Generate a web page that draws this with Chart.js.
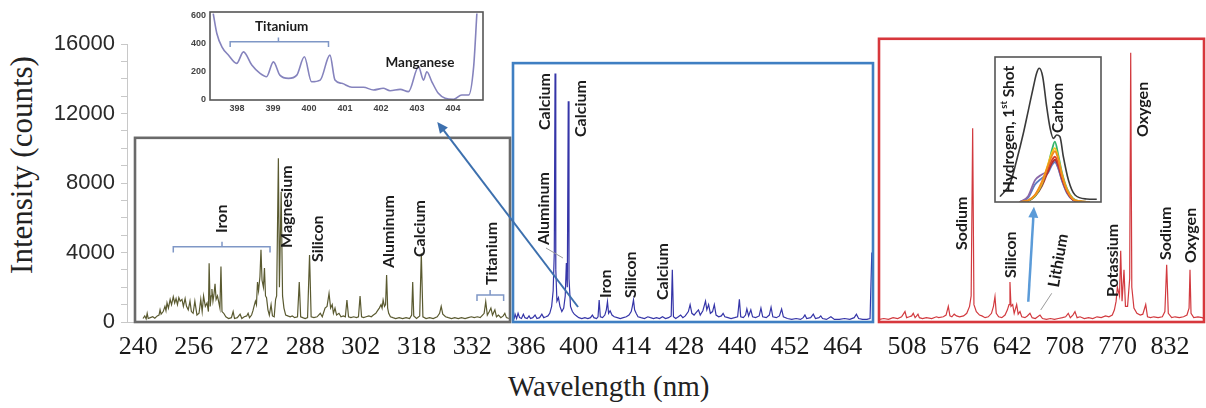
<!DOCTYPE html>
<html>
<head>
<meta charset="utf-8">
<script src="https://cdn.jsdelivr.net/npm/chart.js@4.4.1/dist/chart.umd.min.js"></script>
<style>
  html, body { margin: 0; padding: 0; background: #fff; }
  #fig { position: relative; width: 1206px; height: 408px; overflow: hidden; }
  #fig canvas { position: absolute; left: 0; top: 0; }
  .title { position: absolute; font-family: 'Liberation Serif', 'Times New Roman', serif; color: #222; white-space: nowrap; line-height: 30px; }
  #ytitle { left: 22px; top: 165px; font-size: 31px; transform: translate(-50%, -50%) rotate(-90deg); }
  #xtitle { left: 508px; top: 371px; font-size: 29px; }
</style>
</head>
<body>
<div id="fig">
  <div class="title" id="ytitle">Intensity (counts)</div>
  <div class="title" id="xtitle">Wavelength (nm)</div>
  <canvas id="seg1" width="1206" height="408"></canvas>
  <canvas id="seg2" width="1206" height="408"></canvas>
  <canvas id="seg3" width="1206" height="408"></canvas>
  <canvas id="inset1" width="1206" height="408"></canvas>
  <canvas id="inset2" width="1206" height="408"></canvas>
</div>
<script>
// tick labels (the wavelength axis is broken into three pieces)
const seg1Ticks = [240, 256, 272, 288, 302, 318, 332];
const seg2Ticks = [386, 400, 414, 428, 440, 452, 464];
const seg3Ticks = [508, 576, 642, 708, 770, 832];
const yTicks = [0, 4000, 8000, 12000, 16000];
const insetTiTicksX = [398, 399, 400, 401, 402, 403, 404];
const insetTiTicksY = [0, 200, 400, 600];

// [wavelength nm, counts]
const seg1 = [
  [241.4,200],[241.9,350],[242.3,180],[242.6,500],[242.9,200],[243.5,250],[244.2,300],[244.8,220],
  [245.5,350],[246.0,400],[246.3,700],[246.6,450],[247.2,600],[247.7,900],[248.0,650],[248.3,1100],
  [248.7,800],[249.2,1300],[249.6,1000],[250.1,1450],[250.5,1100],[250.9,1350],[251.3,1000],[251.7,1400],
  [252.1,1200],[252.6,1300],[253.0,900],[253.5,1350],[253.9,900],[254.4,700],[254.9,1200],[255.3,600],
  [255.8,500],[256.3,1200],[256.9,400],[257.5,500],[258.0,1300],[258.4,600],[258.8,1500],[259.3,900],
  [259.8,1100],[260.2,600],[260.4,3380],[260.7,900],[261.0,1500],[261.2,1900],[261.5,1200],[261.8,1600],
  [262.1,2200],[262.4,1300],[262.8,1500],[263.2,1100],[263.5,800],[263.8,3200],[264.1,600],[264.6,500],
  [265.2,300],[266.0,200],[266.8,250],[267.3,600],[267.7,200],[268.5,250],[269.3,450],[269.8,200],
  [270.5,300],[271.2,350],[271.6,500],[272.0,250],[272.6,400],[273.0,650],[273.3,900],[273.7,1200],
  [274.0,1000],[274.3,2300],[274.6,1800],[275.0,2600],[275.3,4150],[275.6,2400],[276.0,2000],[276.3,3100],
  [276.6,1500],[276.9,1400],[277.3,700],[277.7,400],[278.2,1000],[278.6,350],[279.1,300],[279.5,1300],
  [279.8,1500],[280.3,9420],[280.6,2000],[281.1,7500],[281.5,1500],[281.9,800],[282.4,400],[283.0,350],
  [283.7,300],[284.3,350],[285.0,250],[285.8,300],[286.3,2300],[286.7,300],[287.3,250],[288.0,200],
  [288.6,250],[289.1,3860],[289.5,300],[290.2,250],[291.0,300],[291.8,500],[292.3,300],[293.0,800],
  [293.5,900],[294.0,1650],[294.4,800],[294.8,1000],[295.1,500],[295.5,800],[295.9,400],[296.5,500],
  [297.0,300],[297.6,350],[298.1,300],[298.5,1270],[298.9,300],[299.5,250],[300.2,300],[300.9,250],
  [301.4,300],[301.8,1500],[302.2,300],[302.8,250],[303.5,300],[304.3,350],[305.0,300],[305.6,400],
  [306.3,500],[306.8,650],[307.3,800],[307.8,1000],[308.1,800],[308.4,1270],[308.8,900],[309.1,1000],
  [309.4,2700],[309.7,800],[310.0,500],[310.5,300],[311.2,250],[312.0,200],[313.0,250],[314.0,200],
  [315.0,250],[316.0,200],[316.6,400],[316.9,2300],[317.2,350],[318.0,200],[318.8,350],[319.2,3950],
  [319.6,300],[320.4,200],[321.3,250],[322.2,200],[323.2,300],[323.8,500],[324.2,900],[324.6,450],
  [325.3,300],[326.0,250],[326.8,200],[327.6,250],[328.5,200],[329.3,250],[330.2,200],[331.0,250],
  [331.8,300],[332.5,250],[333.3,300],[334.0,250],[334.6,400],[335.0,500],[335.4,1170],[335.8,400],
  [336.3,600],[336.7,800],[337.1,400],[337.7,700],[338.1,300],[338.6,400],[339.2,250],[339.8,350],
  [340.2,500],[340.6,250],[341.2,200]
];

const seg2 = [
  [382.8,150],[383.1,450],[383.5,200],[383.9,500],[384.3,250],[384.8,200],[385.3,450],[385.7,250],
  [386.3,200],[386.8,350],[387.2,200],[387.8,250],[388.4,400],[388.9,200],[389.6,250],[390.2,450],
  [390.7,250],[391.3,300],[391.8,350],[392.3,500],[392.8,900],[393.2,1800],[393.5,4000],[393.7,14300],
  [393.9,3000],[394.2,1200],[394.6,1400],[395.0,900],[395.5,600],[396.0,800],[396.4,1500],[396.7,3400],
  [396.95,2000],[397.2,12700],[397.4,2500],[397.8,900],[398.3,600],[398.8,450],[399.4,350],[400.0,250],
  [400.8,200],[401.6,250],[402.4,200],[403.1,250],[403.6,400],[404.0,250],[404.7,200],[405.1,300],
  [405.4,1270],[405.7,300],[406.3,250],[406.9,400],[407.3,700],[407.6,1170],[407.9,500],[408.3,650],
  [408.8,400],[409.4,300],[410.2,250],[411.0,200],[411.8,250],[412.6,300],[413.3,400],[413.9,600],
  [414.2,900],[414.5,1270],[414.8,700],[415.2,500],[415.7,300],[416.5,250],[417.4,200],[418.3,300],
  [419.0,250],[419.8,200],[420.6,250],[421.4,200],[422.2,300],[423.0,200],[423.8,250],[424.5,350],
  [424.8,3000],[425.1,300],[425.7,200],[426.4,300],[427.0,400],[427.6,250],[428.2,350],[428.9,600],
  [429.3,1000],[429.7,500],[430.2,400],[430.7,550],[431.2,700],[431.6,400],[432.2,650],[432.8,1200],
  [433.1,700],[433.5,1000],[433.9,500],[434.4,600],[434.8,1000],[435.2,400],[435.8,300],[436.4,350],
  [436.8,500],[437.2,300],[437.9,250],[438.6,200],[439.4,250],[440.1,300],[440.5,1300],[440.8,300],
  [441.4,250],[441.9,400],[442.2,750],[442.6,350],[443.1,700],[443.5,300],[444.2,250],[445.0,350],
  [445.4,800],[445.8,300],[446.6,250],[447.3,400],[447.7,850],[448.1,300],[448.9,250],[449.6,350],
  [450.1,750],[450.5,300],[451.4,200],[452.4,150],[453.4,200],[454.4,150],[455.0,250],[455.4,400],
  [455.8,200],[456.7,250],[457.3,450],[457.8,200],[458.6,250],[459.0,350],[459.4,200],[460.3,150],
  [461.3,300],[462.1,150],[463.2,150],[464.4,200],[465.6,150],[466.6,250],[467.1,450],[467.6,200],
  [468.5,150],[469.5,150],[470.2,200],[470.6,4000]
];

const seg3 = [
  [472.5,150],[478,200],[484,150],[490,250],[496,200],[501,300],[505.4,600],[507.5,250],
  [511,300],[514,350],[516.1,500],[518.5,250],[520.5,350],[522.2,450],[524,250],[528,200],
  [533,250],[540,200],[546,300],[549,250],[555,300],[558.5,400],[561.4,900],[563.5,350],
  [566,300],[569,450],[572,350],[576,300],[581,350],[585,500],[588.5,900],[590.5,1500],
  [592.4,11150],[594,1000],[597,600],[601,400],[604,350],[608,250],[612,300],[616,500],
  [618.5,900],[620.4,1460],[622,500],[625,300],[629,250],[633,400],[636,700],[638,1000],
  [639.2,2300],[640.5,900],[642.6,1000],[644.5,500],[647.6,1000],[649.5,450],[651.8,600],[654,300],
  [658,250],[661,350],[664.3,500],[667,250],[671,200],[676.9,400],[680,200],[685,150],
  [690,200],[695,150],[700,200],[705,250],[709,300],[712.1,500],[714.5,250],[717.5,400],
  [720,600],[722.5,250],[726,300],[731,200],[736,250],[741,200],[746,300],[751,250],
  [756,350],[760,300],[764,400],[766.5,700],[768.5,1200],[770,2000],[772.5,1500],[773.9,4100],
  [775.5,1200],[777.8,3000],[779.5,900],[782,900],[784.5,2500],[785.7,15500],[787,2000],[789.5,800],
  [793,500],[797,400],[800,450],[803.4,1000],[805.5,300],[809,250],[813,300],[818,250],
  [823,300],[826,600],[828.1,3300],[830,500],[834,250],[838,300],[843,250],[848,300],
  [852,400],[854.5,800],[855.6,3000],[856.8,500],[860,250],[865,300],[870,250],[871.8,200]
];

// zoomed inset 397-405 nm
const insetTi = [
  [397.34,612],[397.44,471],[397.58,376],[397.76,318],[397.99,259],[398.18,341],[398.41,247],
  [398.64,188],[398.82,165],[399.01,270],[399.19,176],[399.43,153],[399.66,176],[399.87,306],
  [400.07,129],[400.31,141],[400.58,318],[400.72,141],[400.91,118],[401.19,90],[401.51,90],
  [401.79,71],[402.06,83],[402.25,66],[402.53,75],[402.76,59],[403.04,235],[403.18,141],
  [403.27,200],[403.41,129],[403.59,47],[403.78,12],[404.01,5],[404.24,35],[404.43,35],
  [404.57,235],[404.66,612]
];

// hydrogen / carbon inset (relative units)
const insetHWave = [655.19, 655.57, 655.82, 656.07, 656.26, 656.45, 656.57, 656.67, 656.80, 656.95,
                    657.08, 657.20, 657.33, 657.45, 657.58, 657.77, 658.02, 658.46, 658.84];
const shot1Counts = [37, 129, 290, 474, 634, 795, 888, 922, 864, 657, 508, 439, 462, 450, 312, 152, 48, 21, 19];
const insetCWave = [655.94, 656.25, 656.51, 656.77, 657.00, 657.15, 657.26, 657.38, 657.53, 657.72, 657.94, 658.21, 658.58];
const shot2Counts = [0, 12, 50, 140, 250, 320, 350, 300, 185, 80, 20, 4, 0];
const shot3Counts = [0, 10, 45, 130, 260, 340, 372, 310, 190, 85, 22, 5, 0];
const shot4Counts = [0, 10, 45, 125, 230, 290, 312, 270, 170, 75, 18, 4, 0];
const shot5Counts = [0, 8, 40, 120, 250, 360, 416, 330, 200, 90, 25, 5, 0];
const shot6Counts = [0, 8, 40, 110, 210, 270, 292, 255, 160, 70, 16, 3, 0];
const shot7Counts = [0, 40, 150, 190, 215, 265, 285, 240, 150, 65, 15, 3, 0];
const shot8Counts = [0, 30, 120, 165, 200, 255, 275, 235, 145, 60, 14, 3, 0];
const shotColors = ['#f08c1e', '#f3c81a', '#d8402c', '#33b56a', '#b0302c', '#8a68a8', '#5c7cc2'];

// element labels: [text, wavelength, counts at the foot of the label, angle]
const seg1Tags = [['Iron', 264.1, 5122], ['Magnesium', 282.7, 4259], ['Silicon', 291.3, 3453],
                  ['Aluminum', 309.9, 3108], ['Calcium', 318.9, 3741], ['Titanium', 337.0, 2129]];
const seg2Tags = [['Calcium', 391.0, 11050], ['Calcium', 400.6, 10647], ['Aluminum', 390.6, 4432],
                  ['Iron', 407.2, 1381], ['Silicon', 413.8, 1381], ['Calcium', 422.2, 1266]];
const seg3Tags = [['Sodium', 578.6, 4144], ['Silicon', 640.2, 2532], ['Lithium', 694.0, 2014, -80],
                  ['Potassium', 764.2, 1439], ['Oxygen', 800.5, 10647], ['Sodium', 827.0, 3568],
                  ['Oxygen', 856.5, 3396]];
const insetTiTags = [['Titanium', 399.24, 519, 0], ['Manganese', 403.08, 265, 0]];
const insetHTags = [[['Hydrogen, 1', 'st', ' Shot'], 655.53, 62], ['Carbon', 657.36, 476]];

// brackets: [from, to, centre, level, end level, tip level]
const seg1Brackets = [[250.1, 277.9, 264.1, 4334, 4000, 4620], [333.2, 339.9, 336.5, 1554, 1210, 1842]];
const insetTiBrackets = [[397.81, 400.54, 399.15, 412, 376, 443]];

// ---------------------------------------------------------------------------
// axis that spaces its labels evenly, like the original category axis
class StopScale extends Chart.LinearScale {
  buildTicks() {
    return this.options.stops.map(v => ({ value: v }));
  }
  configure() {
    super.configure();
    this._i0 = this.stopIndex(this.min);
    this._i1 = this.stopIndex(this.max);
  }
  stopIndex(v) {
    const s = this.options.stops;
    let i = 0;
    while (i < s.length - 2 && v > s[i + 1]) i++;
    return i + (v - s[i]) / (s[i + 1] - s[i]);
  }
  stopValue(k) {
    const s = this.options.stops;
    const i = Math.max(0, Math.min(s.length - 2, Math.floor(k)));
    return s[i] + (k - i) * (s[i + 1] - s[i]);
  }
  getPixelForValue(v) {
    return this.getPixelForDecimal((this.stopIndex(v) - this._i0) / (this._i1 - this._i0));
  }
  getValueForPixel(p) {
    return this.stopValue(this._i0 + this.getDecimalForPixel(p) * (this._i1 - this._i0));
  }
}
StopScale.id = 'stops';
StopScale.defaults = Chart.LinearScale.defaults;
Chart.register(StopScale);

const charts = {};
const notes = {
  seg1: { frame: { color: '#6a6a6a', width: 2.6, x0: 239.1, top: 10600 }, tags: seg1Tags, tagSize: 16, brackets: seg1Brackets },
  seg2: { frame: { color: '#3f7fc2', width: 2.6, top: 14900 }, tags: seg2Tags, tagSize: 16,
          lines: [[[391.3, 4259], [395.8, 3683]]] },
  seg3: { frame: { color: '#d7373c', width: 2.6, top: 16300 }, tags: seg3Tags, tagSize: 16,
          lines: [[[691.6, 1652], [677.8, 691]]] },
  inset1: { frame: { color: '#555', width: 1.6, fill: '#fff', full: true }, tags: insetTiTags, tagSize: 13.5,
            brackets: insetTiBrackets,
            arrows: [{ from: 'seg2', fx: 399.8, fy: 863, tx: 403.56, ty: -155, color: '#3d70ae', width: 2 }] },
  inset2: { frame: { color: '#555', width: 1.6, fill: '#fff', full: true }, tags: insetHTags, tagSize: 15.5,
            arrows: [{ from: 'seg3', fx: 662.2, fy: 1168, tx: 656.47, ty: -32, color: '#5b9bd8', width: 2.5 }] }
};

function drawTag(ctx, tag, x, y, size) {
  const parts = Array.isArray(tag[0]) ? tag[0] : [tag[0]];
  const angle = tag.length > 3 ? tag[3] : -90;
  const font = 'bold ' + size + 'px Lato, "Open Sans", sans-serif';
  const supFont = 'bold ' + (size * 0.6) + 'px Lato, "Open Sans", sans-serif';
  ctx.save();
  ctx.translate(x, y);
  ctx.rotate(angle * Math.PI / 180);
  ctx.fillStyle = '#1c1c1c';
  ctx.textBaseline = 'middle';
  ctx.textAlign = 'left';
  let w = 0;
  parts.forEach((p, i) => { ctx.font = i % 2 ? supFont : font; w += ctx.measureText(p).width; });
  let cx = angle === 0 ? -w / 2 : 0;
  parts.forEach((p, i) => {
    ctx.font = i % 2 ? supFont : font;
    ctx.fillText(p, cx, i % 2 ? -size * 0.35 : 0);
    cx += ctx.measureText(p).width;
  });
  ctx.restore();
}

function drawArrow(ctx, x0, y0, x1, y1, color, width) {
  const a = Math.atan2(y1 - y0, x1 - x0), len = 11, half = 5;
  ctx.save();
  ctx.strokeStyle = color; ctx.fillStyle = color; ctx.lineWidth = width;
  ctx.beginPath();
  ctx.moveTo(x0, y0);
  ctx.lineTo(x1 - Math.cos(a) * len * 0.8, y1 - Math.sin(a) * len * 0.8);
  ctx.stroke();
  ctx.beginPath();
  ctx.moveTo(x1, y1);
  ctx.lineTo(x1 - Math.cos(a) * len + Math.sin(a) * half, y1 - Math.sin(a) * len - Math.cos(a) * half);
  ctx.lineTo(x1 - Math.cos(a) * len - Math.sin(a) * half, y1 - Math.sin(a) * len + Math.cos(a) * half);
  ctx.closePath();
  ctx.fill();
  ctx.restore();
}

const notesPlugin = {
  id: 'notes',
  beforeDatasetsDraw(chart) {
    const n = notes[chart.canvas.id];
    if (!n || !n.frame.fill) return;
    const a = chart.chartArea, ctx = chart.ctx;
    ctx.save();
    ctx.fillStyle = n.frame.fill;
    ctx.fillRect(a.left, a.top, a.width, a.height);
    ctx.restore();
  },
  afterDatasetsDraw(chart) {
    const n = notes[chart.canvas.id];
    if (!n) return;
    const ctx = chart.ctx, xs = chart.scales.x, ys = chart.scales.y, a = chart.chartArea;
    const px = v => xs.getPixelForValue(v), py = v => ys.getPixelForValue(v);
    const f = n.frame;
    ctx.save();
    ctx.strokeStyle = f.color;
    ctx.lineWidth = f.width;
    if (f.full) {
      ctx.strokeRect(a.left, a.top, a.width, a.height);
    } else {
      const l = f.x0 != null ? px(f.x0) : a.left;
      ctx.strokeRect(l, py(f.top), a.right - l, py(0) - py(f.top));
    }
    ctx.restore();

    (n.brackets || []).forEach(([x0, x1, xc, yl, ye, yt]) => {
      ctx.save();
      ctx.strokeStyle = '#7f97c6';
      ctx.lineWidth = 1.5;
      ctx.beginPath();
      ctx.moveTo(px(x0), py(ye)); ctx.lineTo(px(x0), py(yl)); ctx.lineTo(px(x1), py(yl)); ctx.lineTo(px(x1), py(ye));
      ctx.moveTo(px(xc), py(yl)); ctx.lineTo(px(xc), py(yt));
      ctx.stroke();
      ctx.restore();
    });

    (n.lines || []).forEach(([p0, p1]) => {
      ctx.save();
      ctx.strokeStyle = '#9a9a9a';
      ctx.lineWidth = 1;
      ctx.beginPath();
      ctx.moveTo(px(p0[0]), py(p0[1]));
      ctx.lineTo(px(p1[0]), py(p1[1]));
      ctx.stroke();
      ctx.restore();
    });

    (n.tags || []).forEach(t => drawTag(ctx, t, px(t[1]), py(t[2]), n.tagSize));

    (n.arrows || []).forEach(ar => {
      const src = charts[ar.from];
      const x0 = src.scales.x.getPixelForValue(ar.fx), y0 = src.scales.y.getPixelForValue(ar.fy);
      drawArrow(ctx, x0, y0, px(ar.tx), py(ar.ty), ar.color, ar.width);
    });
  }
};
Chart.register(notesPlugin);

const common = {
  responsive: false,
  animation: false,
  events: [],
  plugins: { legend: { display: false }, tooltip: { enabled: false } }
};

function spectrum(id, points, color, ticks, xMin, xMax, padLeft, padRight, showY) {
  const yAxis = {
    min: 0, max: 16000, display: showY,
    grid: { display: true, drawOnChartArea: false, drawTicks: true, tickLength: 6, color: '#c8c8c8' },
    border: { display: true, color: '#c8c8c8' },
    ticks: {
      stepSize: 1000, autoSkip: false, padding: 6, color: '#2a2a2a',
      font: { family: 'Liberation Sans', size: 22 },
      callback: v => (yTicks.includes(v) ? v : '')
    }
  };
  if (showY) yAxis.afterFit = s => { s.width = 127; };
  charts[id] = new Chart(document.getElementById(id), {
    type: 'line',
    data: {
      datasets: [{
        data: points.map(([x, y]) => ({ x, y })),
        borderColor: color, borderWidth: 1.2, pointRadius: 0, tension: 0
      }]
    },
    options: Object.assign({}, common, {
      layout: { padding: { left: padLeft, right: padRight, top: 44, bottom: 0 } },
      scales: {
        x: {
          type: 'stops', stops: ticks, min: xMin, max: xMax,
          grid: { display: false, drawTicks: false },
          border: { display: showY, color: '#c8c8c8' },
          ticks: {
            autoSkip: false, maxRotation: 0, padding: 10, color: '#1a1a1a',
            font: { family: 'Liberation Serif', size: 26 },
            callback: v => v
          },
          afterFit: s => { s.height = 86; }
        },
        y: yAxis
      }
    })
  });
}

spectrum('seg1', seg1, '#5a5a30', seg1Ticks, 236.8, 341.5, 0, 696, true);
spectrum('seg2', seg2, '#3535a8', seg2Ticks, 382.55, 470.87, 513, 333, false);
spectrum('seg3', seg3, '#d23a3f', seg3Ticks, 471.8, 872.1, 879, 2, false);

const smallTicks = { family: 'Liberation Sans', size: 9, weight: 'bold' };

charts.inset1 = new Chart(document.getElementById('inset1'), {
  type: 'line',
  data: {
    datasets: [{
      data: insetTi.map(([x, y]) => ({ x, y })),
      borderColor: '#8583bd', borderWidth: 1.6, pointRadius: 0,
      tension: 0.4, cubicInterpolationMode: 'monotone'
    }]
  },
  options: Object.assign({}, common, {
    layout: { padding: { left: 190, right: 723, top: 12, bottom: 293 } },
    scales: {
      x: {
        type: 'linear', min: 397.25, max: 404.83,
        grid: { display: false, drawTicks: false }, border: { display: false },
        ticks: { padding: 3, color: '#444', font: smallTicks, autoSkip: false, maxRotation: 0, callback: v => v },
        afterBuildTicks: s => { s.ticks = insetTiTicksX.map(v => ({ value: v })); },
        afterFit: s => { s.height = 15; }
      },
      y: {
        type: 'linear', min: 0, max: 623,
        grid: { display: false, drawTicks: false }, border: { display: false },
        ticks: { padding: 4, color: '#444', font: smallTicks, autoSkip: false, callback: v => v },
        afterBuildTicks: s => { s.ticks = insetTiTicksY.map(v => ({ value: v })); },
        afterFit: s => { s.width = 20; }
      }
    }
  })
});

const shots = [shot2Counts, shot3Counts, shot4Counts, shot5Counts, shot6Counts, shot7Counts, shot8Counts];
charts.inset2 = new Chart(document.getElementById('inset2'), {
  type: 'line',
  data: {
    datasets: [{
      data: insetHWave.map((x, i) => ({ x, y: shot1Counts[i] })),
      borderColor: '#3a3a3a', borderWidth: 1.6, pointRadius: 0, tension: 0.4, cubicInterpolationMode: 'monotone'
    }].concat(shots.map((c, k) => ({
      data: insetCWave.map((x, i) => ({ x, y: c[i] })),
      borderColor: shotColors[k], borderWidth: 1.8, pointRadius: 0, tension: 0.4, cubicInterpolationMode: 'monotone'
    })))
  },
  options: Object.assign({}, common, {
    layout: { padding: { left: 995, right: 105, top: 57, bottom: 206 } },
    scales: {
      x: { type: 'linear', min: 655, max: 659, display: false },
      y: { type: 'linear', min: 0, max: 1000, display: false }
    }
  })
});
</script>
</body>
</html>
